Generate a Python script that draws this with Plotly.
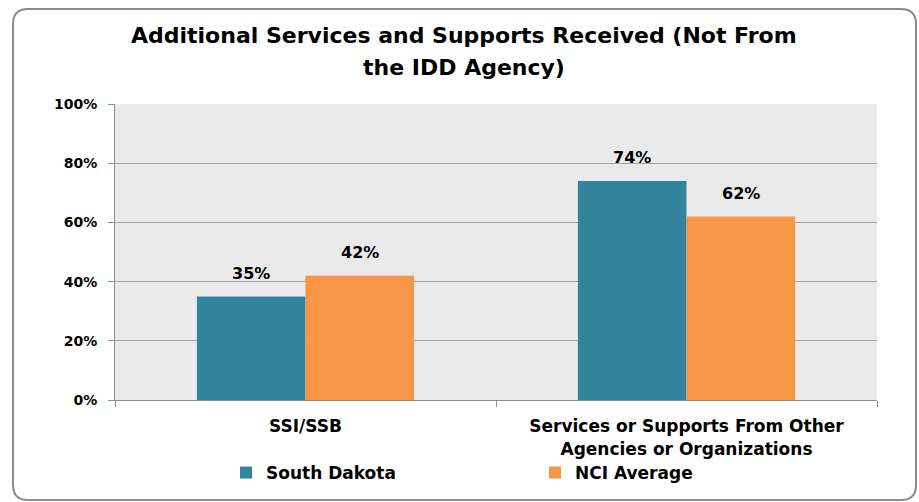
import plotly.graph_objects as go

categories = ["SSI/SSB", "Services or Supports From Other<br>Agencies or Organizations"]
south_dakota = [35, 74]
nci_average = [42, 62]
series_names = ["South Dakota", "NCI Average"]
y_ticks = [0, 20, 40, 60, 80, 100]
y_tick_labels = ["0%", "20%", "40%", "60%", "80%", "100%"]
title_lines = ["Additional Services and Supports Received (Not From", "the IDD Agency)"]

W, H = 919, 502
L, R, T, B = 115, 42, 104, 102
pw, ph = W - L - R, H - T - B
BARGAP = 0.43

FONT = "DejaVu Sans, sans-serif"
BLACK = "#000000"
GRAY = "#8C8C8C"

fig = go.Figure()
fig.add_trace(go.Bar(
    x=categories, y=south_dakota, name=series_names[0],
    marker=dict(color="#31849B", line=dict(width=0)),
))
fig.add_trace(go.Bar(
    x=categories, y=nci_average, name=series_names[1],
    marker=dict(color="#F79646", line=dict(width=0)),
))

def px2x(px):
    return (px - L) / pw

def py2y(py):
    return (H - B - py) / ph

# value labels above bars (shifted to each bar's centre in the group)
bar_px = pw / len(categories) * (1 - BARGAP) / 2
annotations = []
for vals, sgn in ((south_dakota, -1), (nci_average, 1)):
    for cat, v in zip(categories, vals):
        annotations.append(dict(
            x=cat, y=v, xref="x", yref="y", text=f"{v}%", showarrow=False,
            xshift=sgn * bar_px / 2, yshift=23, yanchor="middle",
            font=dict(family=FONT, size=16, color=BLACK, weight="bold"),
        ))

# two-line title
for line, cy in zip(title_lines, (35, 67)):
    annotations.append(dict(
        x=px2x(464), y=py2y(cy), xref="paper", yref="paper",
        text=line, showarrow=False, xanchor="center", yanchor="middle",
        font=dict(family=FONT, size=22, color=BLACK, weight="bold"),
    ))

# rounded outer border in paper coordinates
x0p, x1p, y0p, y1p, r = 13, 916, 9, 500, 15
path = (
    f"M {px2x(x0p + r)},{py2y(y0p)} "
    f"L {px2x(x1p - r)},{py2y(y0p)} "
    f"Q {px2x(x1p)},{py2y(y0p)} {px2x(x1p)},{py2y(y0p + r)} "
    f"L {px2x(x1p)},{py2y(y1p - r)} "
    f"Q {px2x(x1p)},{py2y(y1p)} {px2x(x1p - r)},{py2y(y1p)} "
    f"L {px2x(x0p + r)},{py2y(y1p)} "
    f"Q {px2x(x0p)},{py2y(y1p)} {px2x(x0p)},{py2y(y1p - r)} "
    f"L {px2x(x0p)},{py2y(y0p + r)} "
    f"Q {px2x(x0p)},{py2y(y0p)} {px2x(x0p + r)},{py2y(y0p)} Z"
)

fig.update_layout(
    width=W, height=H,
    margin=dict(l=L, r=R, t=T, b=B, autoexpand=False),
    paper_bgcolor="#FFFFFF",
    plot_bgcolor="#EAEAEA",
    barmode="group",
    bargap=BARGAP,
    bargroupgap=0,
    font=dict(family=FONT, color=BLACK),
    showlegend=True,
    legend=dict(
        orientation="h",
        x=px2x(226), xanchor="left",
        y=py2y(455), yanchor="top",
        entrywidth=264, entrywidthmode="pixels",
        font=dict(family=FONT, size=17, color=BLACK, weight="bold"),
        itemwidth=30,
        bgcolor="rgba(0,0,0,0)",
    ),
    annotations=annotations,
    shapes=[dict(
        type="path", path=path, xref="paper", yref="paper",
        line=dict(color=GRAY, width=2), fillcolor="rgba(0,0,0,0)",
        layer="below",
    )],
)

fig.update_xaxes(
    type="category",
    showline=True, linecolor=GRAY, linewidth=1,
    ticks="outside", tickson="boundaries", ticklen=6, tickcolor=GRAY,
    tickfont=dict(family=FONT, size=17, color=BLACK, weight="bold"),
    ticklabelstandoff=11,
    showgrid=False, automargin=False,
)
fig.update_yaxes(
    range=[0, 100],
    tickvals=y_ticks, ticktext=y_tick_labels,
    showline=True, linecolor=GRAY, linewidth=1,
    ticks="outside", ticklen=6, tickcolor=GRAY,
    tickfont=dict(family=FONT, size=14, color=BLACK, weight="bold"),
    ticklabelstandoff=8,
    showgrid=True, gridcolor="#A6A6A6", gridwidth=1,
    zeroline=False, automargin=False,
)

fig.write_html(
    "out.html",
    config={"displayModeBar": False},
    post_script="document.body.style.margin='0';document.body.style.overflow='hidden';",
)
